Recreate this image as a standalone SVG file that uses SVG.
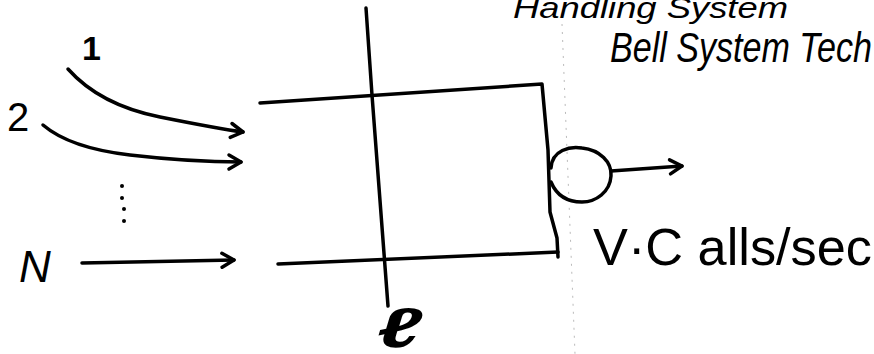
<svg xmlns="http://www.w3.org/2000/svg" width="874" height="354" viewBox="0 0 874 354">
<defs>
<style>
.ln{fill:none;stroke:#000;stroke-width:3.5;stroke-linecap:round;stroke-linejoin:round}
.t{font-family:"Liberation Sans",Arial,sans-serif;fill:#000}
.fold{fill:none;stroke:#bbb;stroke-width:1;stroke-dasharray:2 6}
</style>
<marker id="ah" viewBox="0 0 20 20" refX="16" refY="10" markerWidth="20" markerHeight="20" markerUnits="userSpaceOnUse" orient="auto">
<path d="M4,3 L16,10 L4,17" fill="none" stroke="#000" stroke-width="3.5" stroke-linecap="round" stroke-linejoin="round"/>
</marker>
</defs>
<rect width="874" height="354" fill="#fff"/>
<path class="fold" d="M562,24 L575,354"/>
<g id="header">
<text class="t" x="513" y="18" font-size="30" font-style="italic" textLength="275" lengthAdjust="spacingAndGlyphs">Handling System</text>
<text class="t" x="610" y="62" font-size="42" font-style="italic" textLength="262" lengthAdjust="spacingAndGlyphs">Bell System Tech</text>
</g>
<g id="input-labels">
<text class="t" x="82" y="60" font-size="34" font-weight="bold">1</text>
<text class="t" x="7" y="131" font-size="40">2</text>
<text class="t" x="19" y="282" font-size="44" font-style="italic">N</text>
<g id="dots">
<circle cx="122" cy="186" r="2"/>
<circle cx="122" cy="198" r="2"/>
<circle cx="124" cy="209" r="2"/>
<circle cx="124" cy="221" r="2"/>
</g>
</g>
<g id="queue">
<path class="ln" d="M260,103 L542,84 L548,150 L550,212 L557,238 L558,257"/>
<path class="ln" d="M278,264 L558,252"/>
</g>
<g id="cut-line">
<path class="ln" d="M366,8 L372,95 L388,306"/>
<text class="t" x="377" y="347" font-size="56" font-style="italic" font-weight="bold" textLength="45" lengthAdjust="spacingAndGlyphs">ℓ</text>
</g>
<g id="server">
<path class="ln" d="M551,168 C552,150 570,146 582,148 C600,150 612,162 611,176 C610,192 596,202 582,202 C566,202 556,194 551,182"/>
</g>
<g id="connectors">
<path class="ln" d="M68,69 Q100,105 160,117 T243,132" marker-end="url(#ah)"/>
<path class="ln" d="M43,125 Q70,148 130,155 T241,162" marker-end="url(#ah)"/>
<path class="ln" d="M82,263 L234,260" marker-end="url(#ah)"/>
<path class="ln" d="M611,171 L682,166" marker-end="url(#ah)"/>
</g>
<g id="output-label">
<text class="t" x="593" y="265" font-size="52" textLength="279" lengthAdjust="spacingAndGlyphs">V·C alls/sec</text>
</g>
</svg>
